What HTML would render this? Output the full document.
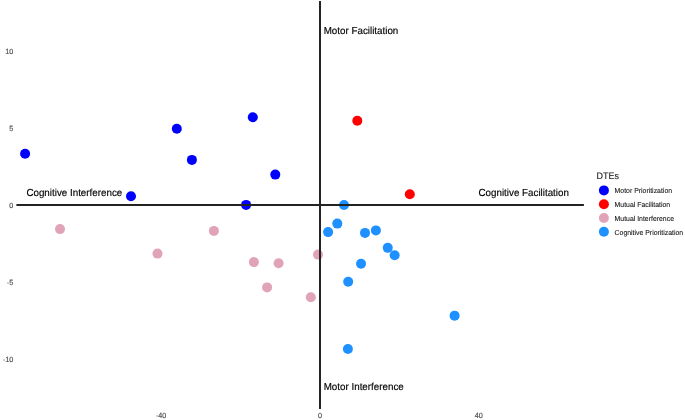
<!DOCTYPE html>
<html><head><meta charset="utf-8">
<style>
html,body{margin:0;padding:0;background:#fff;}
body{width:685px;height:420px;overflow:hidden;}
svg{display:block;}
text{font-family:"Liberation Sans",Arial,sans-serif;text-rendering:geometricPrecision;}
.ax{font-size:7.2px;fill:#4d4d4d;stroke:#4d4d4d;stroke-width:0.15px;}
.an{font-size:9.8px;fill:#000;stroke:#000;stroke-width:0.15px;}
.lg{font-size:6.9px;fill:#111;stroke:#111;stroke-width:0.08px;}
.lt{font-size:9px;fill:#1a1a1a;stroke:#1a1a1a;stroke-width:0.1px;}
</style></head>
<body>
<svg width="685" height="420" viewBox="0 0 685 420">
<rect width="685" height="420" fill="#fff"/>
<!-- y axis labels -->
<g class="ax" text-anchor="end">
<text transform="translate(13.2 53.5) scale(1 1.04)">10</text>
<text transform="translate(13.2 130.6) scale(1 1.04)">5</text>
<text transform="translate(13.2 208.1) scale(1 1.04)">0</text>
<text transform="translate(13.2 285.2) scale(1 1.04)">-5</text>
<text transform="translate(13.2 362.4) scale(1 1.04)">-10</text>
</g>
<!-- x axis labels -->
<g class="ax" text-anchor="middle">
<text transform="translate(161 417.9) scale(1 1.04)">-40</text>
<text transform="translate(320 417.9) scale(1 1.04)">0</text>
<text transform="translate(478.8 417.9) scale(1 1.04)">40</text>
</g>
<!-- points -->
<g fill="#0000ff">
<circle cx="25.1" cy="153.8" r="5"/>
<circle cx="176.8" cy="128.8" r="5"/>
<circle cx="191.9" cy="159.9" r="5"/>
<circle cx="252.8" cy="117.3" r="5"/>
<circle cx="275.3" cy="174.6" r="5"/>
<circle cx="246.1" cy="204.9" r="5"/>
<circle cx="131" cy="196.2" r="5"/>
</g>
<g fill="#ff0000">
<circle cx="357.3" cy="120.8" r="5"/>
<circle cx="409.8" cy="194.2" r="5"/>
</g>
<g fill="#e1a3b8">
<circle cx="60" cy="229.1" r="5"/>
<circle cx="157.5" cy="253.6" r="5"/>
<circle cx="213.9" cy="230.9" r="5"/>
<circle cx="253.9" cy="262.1" r="5"/>
<circle cx="278.6" cy="263.3" r="5"/>
<circle cx="267.1" cy="287.4" r="5"/>
<circle cx="318" cy="254.6" r="5"/>
<circle cx="310.8" cy="297.2" r="5"/>
</g>
<g fill="#1e90ff">
<circle cx="344" cy="205" r="5"/>
<circle cx="337.3" cy="223.6" r="5"/>
<circle cx="328.1" cy="232.1" r="5"/>
<circle cx="365" cy="232.9" r="5"/>
<circle cx="375.9" cy="230.4" r="5"/>
<circle cx="387.75" cy="247.85" r="5"/>
<circle cx="394.65" cy="255.2" r="5"/>
<circle cx="361.05" cy="263.8" r="5"/>
<circle cx="348.2" cy="281.7" r="5"/>
<circle cx="454.6" cy="315.65" r="5"/>
<circle cx="347.9" cy="349" r="5"/>
</g>
<!-- axes lines -->
<line x1="16.4" y1="205" x2="583.9" y2="205" stroke="#232323" stroke-width="2"/>
<line x1="320" y1="1" x2="320" y2="408.9" stroke="#232323" stroke-width="2"/>
<!-- annotations -->
<g class="an">
<text transform="translate(323.7 34) scale(1 1.04)">Motor Facilitation</text>
<text transform="translate(26.4 196.4) scale(1 1.04)">Cognitive Interference</text>
<text transform="translate(478.5 196.4) scale(1 1.04)">Cognitive Facilitation</text>
<text transform="translate(323.7 389.8) scale(1 1.04)">Motor Interference</text>
</g>
<!-- legend -->
<text class="lt" transform="translate(596.5 179.1) scale(1 1.04)">DTEs</text>
<circle cx="603.9" cy="190.4" r="5" fill="#0000ff"/>
<circle cx="603.9" cy="204.2" r="5" fill="#ff0000"/>
<circle cx="603.9" cy="218.0" r="5" fill="#e1a3b8"/>
<circle cx="603.9" cy="231.8" r="5" fill="#1e90ff"/>
<g class="lg">
<text transform="translate(614.6 193.3) scale(1 1.04)">Motor Prioritization</text>
<text transform="translate(614.6 207.1) scale(1 1.04)">Mutual Facilitation</text>
<text transform="translate(614.6 220.9) scale(1 1.04)">Mutual Interference</text>
<text transform="translate(614.6 234.7) scale(1 1.04)">Cognitive Prioritization</text>
</g>
</svg>
</body></html>
